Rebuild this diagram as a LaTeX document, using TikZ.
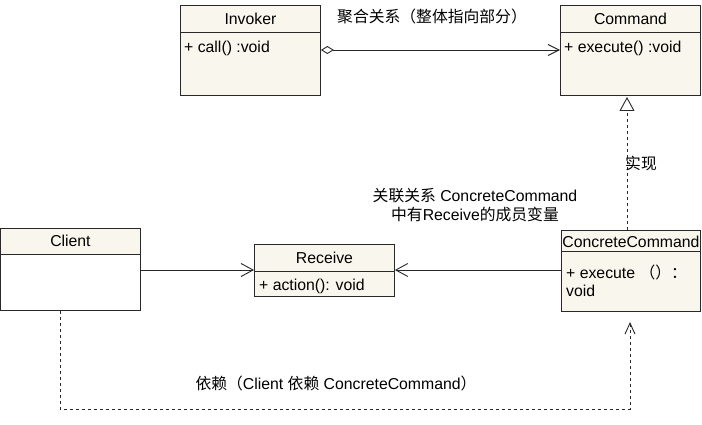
\documentclass[tikz,border=0pt]{standalone}
\usepackage{fontspec}
\setmainfont{Liberation Sans}
\newfontfamily\cjk{Noto Sans CJK SC}
\usetikzlibrary{arrows.meta}
\definecolor{boxfill}{RGB}{249,247,237}
\definecolor{linec}{RGB}{40,40,40}
\tikzset{
  cls/.style={draw=linec, fill=boxfill, line width=0.9pt, inner sep=0pt, anchor=north west},
  sep/.style={draw=linec, line width=0.9pt},
  ttl/.style={inner sep=0pt, font=\fontsize{15.8}{19}\selectfont, text=black},
  mem/.style={inner sep=0pt, anchor=west, font=\fontsize{15.8}{19}\selectfont, text=black},
  lbl/.style={inner sep=0pt, font=\fontsize{15.8}{19}\selectfont, text=black, align=center},
  conn/.style={draw=linec, line width=0.9pt},
  dsh/.style={conn, dash pattern=on 3pt off 3pt},
  openarr/.style={-{Straight Barb[length=12pt,width=13pt,line width=0.9pt]}},
}
\begin{document}
\begin{tikzpicture}[x=1pt,y=-1pt]
\useasboundingbox (0,0) rectangle (702,425);

% Invoker
\node[cls, minimum width=140pt, minimum height=90pt] (inv) at (180,5) {};
\draw[sep] ([yshift=-27pt]inv.north west) -- ([yshift=-27pt]inv.north east);
\node[ttl] (invt) at ([yshift=-13.5pt]inv.north) {Invoker};
\node[mem] (invm) at ([xshift=4pt,yshift=-43pt]inv.north west) {+ call() :void};

% Command
\node[cls, minimum width=140pt, minimum height=90pt] (cmd) at (560,5) {};
\draw[sep] ([yshift=-27pt]cmd.north west) -- ([yshift=-27pt]cmd.north east);
\node[ttl] (cmdt) at ([yshift=-13.5pt]cmd.north) {Command};
\node[mem] (cmdm) at ([xshift=4pt,yshift=-43pt]cmd.north west) {+ execute() :void};

% Client
\node[cls, fill=white, minimum width=140pt, minimum height=82pt] (cli) at (0,228) {};
\fill[boxfill] ([shift={(0.5pt,-0.5pt)}]cli.north west) rectangle ([shift={(-0.5pt,-26pt)}]cli.north east);
\draw[sep] (cli.north west) rectangle (cli.south east);
\draw[sep] ([yshift=-26pt]cli.north west) -- ([yshift=-26pt]cli.north east);
\node[ttl] (clit) at ([yshift=-13pt]cli.north) {Client};

% Receive
\node[cls, minimum width=140pt, minimum height=52pt] (rcv) at (254,244) {};
\draw[sep] ([yshift=-27pt]rcv.north west) -- ([yshift=-27pt]rcv.north east);
\node[ttl] (rcvt) at ([yshift=-13.5pt]rcv.north) {Receive};
\node[mem] (rcvm) at ([xshift=5pt,yshift=-42pt]rcv.north west) {+ action(): void};

% ConcreteCommand
\node[cls, minimum width=139pt, minimum height=81pt] (cc) at (561,230) {};
\draw[sep] ([yshift=-21pt]cc.north west) -- ([yshift=-21pt]cc.north east);
\node[ttl] (cct) at ([yshift=-12pt]cc.north) {ConcreteCommand};
\node[mem] (ccm1) at ([xshift=5pt,yshift=-42pt]cc.north west) {+ execute {\cjk （）：}};
\node[mem] (ccm2) at ([xshift=5pt,yshift=-61pt]cc.north west) {void};

% Aggregation Invoker -> Command
\draw[conn, {Diamond[open,length=13pt,width=8pt,line width=0.9pt]}-{Straight Barb[length=11pt,width=11pt,line width=0.9pt]}]
  ([yshift=-45pt]inv.north east) -- ([yshift=-45pt]cmd.north west);
\node[lbl] (agglbl) at (432,16) {{\cjk 聚合关系（整体指向部分）}};

% Realization ConcreteCommand -> Command
\coordinate (realend) at (627,97);
\draw[dsh, -{Triangle[open,length=14pt,width=15pt,line width=0.9pt,fill=white]}]
  (cc.north -| realend) -- (realend);
\node[lbl, anchor=west] (reallbl) at (625,163) {{\cjk 实现}};

% Association ConcreteCommand -> Receive
\draw[conn, openarr] (cc.west |- 0,270) -- (rcv.east |- 0,270);
\node[lbl] (asslbl) at (475,205) {{\cjk 关联关系} ConcreteCommand\\[0pt]{\cjk 中有}Receive{\cjk 的成员变量}};

% Client -> Receive
\draw[conn, openarr] (cli.east |- 0,270) -- (rcv.west |- 0,270);

% Dependency Client -> ConcreteCommand
\coordinate (depc1) at (60,409);
\coordinate (depc2) at (630,409);
\coordinate (depend) at (630,322);
\draw[dsh, -{Straight Barb[length=11pt,width=10pt,line width=0.9pt]}]
  (cli.south -| depc1) -- (depc1) -- (depc2) -- (depend);
\node[lbl] (deplbl) at (336,383) {{\cjk 依赖（}Client {\cjk 依赖} ConcreteCommand{\cjk ）}};
\end{tikzpicture}
\end{document}
